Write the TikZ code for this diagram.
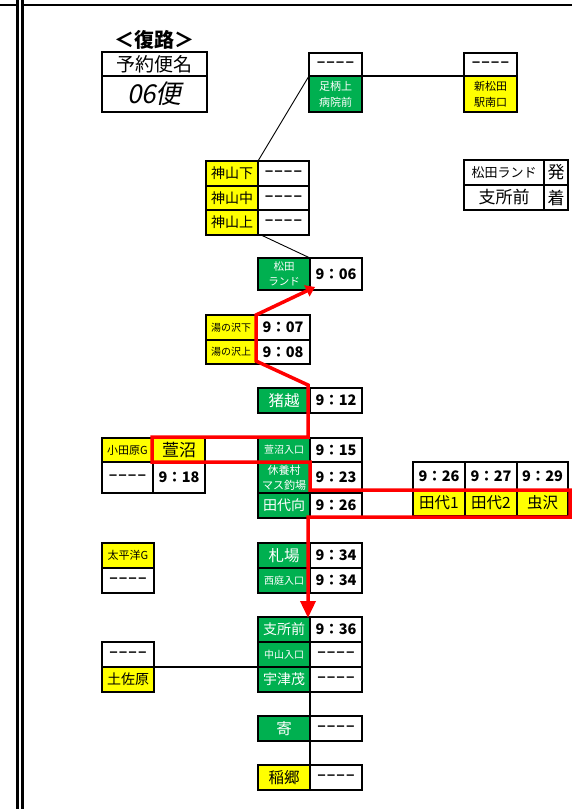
\documentclass[tikz,border=0pt]{standalone}
\usepackage{fontspec}
\setmainfont{Noto Sans CJK JP}
\newfontfamily\slantjp[FakeSlant=0.2]{Noto Sans CJK JP}
\newfontfamily\dashfont{Liberation Sans}
\usetikzlibrary{arrows.meta}
\definecolor{grn}{HTML}{00B050}
\definecolor{ylw}{HTML}{FFFF00}
\definecolor{rd}{HTML}{FF0000}
\newcommand{\dsh}{{\dashfont\bfseries\fontsize{14.5}{14.5}\selectfont –\kern1.5pt–\kern1.5pt–\kern1.5pt–}}
\tikzset{
  cell/.style={draw, line width=2pt, inner sep=0pt, outer sep=0pt, anchor=north west, align=center},
  gcell/.style={cell, fill=grn, text=white},
  ycell/.style={cell, fill=ylw, text=black},
  wcell/.style={cell, fill=white},
  tm/.style={wcell, font=\bfseries\fontsize{14.5}{14.5}\selectfont},
  sz/.style 2 args={minimum width=#1pt, minimum height=#2pt},
  f9/.style={font=\fontsize{10}{12}\selectfont},
  f11/.style={font=\fontsize{11}{12}\selectfont},
  ftwo/.style={font=\fontsize{11}{15}\selectfont},
  f14/.style={font=\fontsize{14}{16}\selectfont},
  f16/.style={font=\fontsize{15.5}{17}\selectfont},
  conn/.style={line width=2pt},
  thinconn/.style={line width=0.9pt},
  route/.style={draw=rd, line width=3.5pt},
  frame/.style={line width=2.2pt}
}
\begin{document}
\begin{tikzpicture}[x=1pt,y=-1pt]
\useasboundingbox (0,0) rectangle (572,809);
% frame
\draw[frame] (0,5) -- (17.5,5);
\draw[frame] (17.5,0) -- (17.5,809);
\draw[frame] (22.5,0) -- (22.5,809);
\draw[frame] (22.5,5) -- (572,5);

% header
\node[font=\bfseries\fontsize{20}{20}\selectfont] (hdr) at (154,40) {＜復路＞};
\node[wcell, sz={105}{24}, font=\fontsize{19}{19}\selectfont] (yk) at (102,52) {予約便名};
\node[wcell, sz={105}{36}, font=\slantjp\fontsize{26}{26}\selectfont] (bin) at (102,76) {06便};

% top right
\node[wcell, sz={53}{23}] (ashd) at (309,53) {\dsh};
\node[gcell, sz={53}{36}, font=\fontsize{11}{16}\selectfont] (ashn) at (309,76) {足柄上\\病院前};
\node[wcell, sz={53}{23}] (smd) at (464,53) {\dsh};
\node[ycell, sz={53}{36}, font=\fontsize{11}{16}\selectfont] (smn) at (464,76) {新松田\\駅南口};

% kamiyama
\node[ycell, sz={52}{24.5}, f14] (kms) at (206,161) {神山下};
\node[wcell, sz={51}{24.5}] (kmsd) at (258,161) {\dsh};
\node[ycell, sz={52}{24.5}, f14] (kmn) at (206,185.5) {神山中};
\node[wcell, sz={51}{24.5}] (kmnd) at (258,185.5) {\dsh};
\node[ycell, sz={52}{24.5}, f14] (kmk) at (206,210) {神山上};
\node[wcell, sz={51}{24.5}] (kmkd) at (258,210) {\dsh};

% matsuda land
\node[gcell, sz={52}{32}, font=\fontsize{10.5}{15}\selectfont] (mln) at (258,258) {松田\\ランド};
\node[tm, sz={52}{32}] (mlt) at (310,258) {9：06};

% legend
\node[wcell, sz={80}{25}, font=\fontsize{13}{13}\selectfont] (lg1) at (464,160) {松田ランド};
\node[wcell, sz={24}{25}, font=\fontsize{17}{17}\selectfont] (lg2) at (544,160) {発};
\node[wcell, sz={80}{25}, font=\fontsize{17}{17}\selectfont] (lg3) at (464,185) {支所前};
\node[wcell, sz={24}{25}, font=\fontsize{17}{17}\selectfont] (lg4) at (544,185) {着};

% yunosawa
\node[ycell, sz={50}{24.5}, f9] (ysn1) at (206,315) {湯の沢下};
\node[tm, sz={54}{24.5}] (yst1) at (256,315) {9：07};
\node[ycell, sz={50}{24.5}, f9] (ysn2) at (206,339.5) {湯の沢上};
\node[tm, sz={54}{24.5}] (yst2) at (256,339.5) {9：08};

% inokoshi
\node[gcell, sz={52}{25}, f16] (ikn) at (258,388) {猪越};
\node[tm, sz={52}{25}] (ikt) at (310,388) {9：12};

% odawara / kayanuma
\node[ycell, sz={51}{24}, f11] (odn) at (102,438) {小田原G};
\node[ycell, sz={52}{24}, font=\fontsize{17}{17}\selectfont] (kyn) at (153,438) {萱沼};
\node[wcell, sz={51}{31}] (odd) at (102,462) {\dsh};
\node[tm, sz={52}{31}] (kyt) at (153,462) {9：18};

% kayanuma iriguchi
\node[gcell, sz={52}{24}, f9] (kin) at (258,438) {萱沼入口};
\node[tm, sz={52}{24}] (kit) at (310,438) {9：15};
\node[gcell, sz={52}{31}, ftwo] (qn) at (258,462) {休養村\\マス釣場};
\node[tm, sz={52}{31}] (qt) at (310,462) {9：23};
\node[gcell, sz={52}{25}, f14] (tmn) at (258,493) {田代向};
\node[tm, sz={52}{25}] (tmt) at (310,493) {9：26};

% tashiro group
\node[tm, sz={52}{28}] (t1t) at (413,462) {9：26};
\node[tm, sz={52}{28}] (t2t) at (465,462) {9：27};
\node[tm, sz={51}{28}] (mst) at (517,462) {9：29};
\node[ycell, sz={52}{26}, f16] (t1n) at (413,490) {田代1};
\node[ycell, sz={52}{26}, f16] (t2n) at (465,490) {田代2};
\node[ycell, sz={51}{26}, f16] (msn) at (517,490) {虫沢};

% taiheiyo
\node[ycell, sz={52}{25}, f11] (tpn) at (102,543) {太平洋G};
\node[wcell, sz={52}{25}] (tpd) at (102,568) {\dsh};

% fudaba
\node[gcell, sz={52}{25}, f16] (fbn) at (258,543) {札場};
\node[tm, sz={52}{25}] (fbt) at (310,543) {9：34};
\node[gcell, sz={52}{25}, f9] (nin) at (258,568) {西庭入口};
\node[tm, sz={52}{25}] (nit) at (310,568) {9：34};

% shishomae
\node[gcell, sz={52}{25}, f14] (ssn) at (258,617) {支所前};
\node[tm, sz={52}{25}] (sst) at (310,617) {9：36};
\node[gcell, sz={52}{25}, f9] (nyn) at (258,642) {中山入口};
\node[wcell, sz={52}{25}] (nyd) at (310,642) {\dsh};
\node[gcell, sz={52}{25}, f14] (utn) at (258,667) {宇津茂};
\node[wcell, sz={52}{25}] (utd) at (310,667) {\dsh};

% tosahara
\node[wcell, sz={52}{25}] (tsd) at (102,642) {\dsh};
\node[ycell, sz={52}{25}, f14] (tsn) at (102,667) {土佐原};

% yoriki / inago
\node[gcell, sz={52}{25}, f16] (yrn) at (258,716) {寄};
\node[wcell, sz={52}{25}] (yrd) at (310,716) {\dsh};
\node[ycell, sz={52}{25}, f16] (ign) at (258,765) {稲郷};
\node[wcell, sz={52}{25}] (igd) at (310,765) {\dsh};

% black connectors
\draw[conn] (ashd.south east) -- (smd.south west);
\draw[thinconn] (ashn.north west) -- (kms.north east);
\draw[thinconn] ([xshift=2pt]kmk.south east) -- (mln.north east);
\draw[conn] (tsd.south east) -- (utn.north west);
\draw[conn] (utn.south east) -- (yrn.north east);
\draw[conn] (yrn.south east) -- (ign.north east);

% red route
\coordinate (r0) at (315,287);
\coordinate (r1) at (256,315);
\coordinate (r2) at (256,361);
\coordinate (r3) at (308,385);
\coordinate (r4) at (308,437);
\coordinate (r5) at (152,437);
\coordinate (r6) at (152,462);
\coordinate (r7) at (310,462);
\coordinate (r8) at (310,490);
\coordinate (r9) at (570,490);
\coordinate (r10) at (570,517);
\coordinate (r11) at (308,517);
\coordinate (r12) at (308,618);
\draw[route, {Triangle[length=9pt,width=12pt]}-{Triangle[length=17pt,width=15pt]}]
  (r0) -- (r1) -- (r2) -- (r3) -- (r4) -- (r5) -- (r6) -- (r7) -- (r8) -- (r9) -- (r10) -- (r11) -- (r12);
\end{tikzpicture}
\end{document}
